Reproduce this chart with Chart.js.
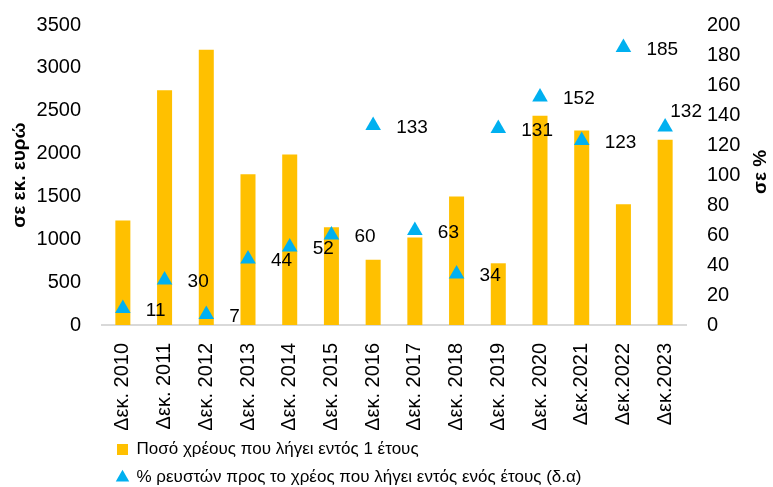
<!DOCTYPE html>
<html>
<head>
<meta charset="utf-8">
<script src="https://cdn.jsdelivr.net/npm/chart.js@4.4.0/dist/chart.umd.min.js"></script>
<style>
  html, body { margin: 0; padding: 0; background: #fff; }
  #wrap { width: 773px; height: 487px; }
</style>
</head>
<body>
<div id="wrap"><canvas id="debtChart"></canvas></div>
<script>
// Year-end categories
const years = ['Δεκ. 2010', 'Δεκ. 2011', 'Δεκ. 2012', 'Δεκ. 2013', 'Δεκ. 2014', 'Δεκ. 2015',
               'Δεκ. 2016', 'Δεκ. 2017', 'Δεκ. 2018', 'Δεκ. 2019', 'Δεκ. 2020',
               'Δεκ.2021', 'Δεκ.2022', 'Δεκ.2023'];

// Debt maturing within one year (million euro, left axis)
const debtDue = [1220, 2740, 3210, 1760, 1990, 1140, 760, 1020, 1500, 720, 2440, 2270, 1410, 2160];

// Liquid assets as % of debt maturing within one year (right axis)
const liquidRatio = [11, 30, 7, 44, 52, 60, 133, 63, 34, 131, 152, 123, 185, 132];

const debtLabel = 'Ποσό χρέους που λήγει εντός 1 έτους';
const ratioLabel = '% ρευστών προς το χρέος που λήγει εντός ενός έτους (δ.α)';
const leftTitle = 'σε εκ. ευρώ';
const rightTitle = 'σε %';

const FONT = "'Liberation Sans', Arial, sans-serif";

// numbers next to the triangles
const pointLabels = {
    id: 'pointLabels',
    afterDatasetsDraw(chart) {
        const meta = chart.getDatasetMeta(1);
        const ctx = chart.ctx;
        ctx.save();
        ctx.font = '19px ' + FONT;
        ctx.fillStyle = '#000';
        ctx.textBaseline = 'middle';
        meta.data.forEach((pt, i) => {
            const last = i === meta.data.length - 1;
            // the last one sits above, otherwise it would run into the right axis
            ctx.textAlign = last ? 'center' : 'left';
            const x = last ? pt.x + 21 : pt.x + 23;
            const y = last ? pt.y - 15 : pt.y + 2;
            ctx.fillText(String(liquidRatio[i]), x, y);
        });
        ctx.restore();
    }
};

// right axis title, turned the same way as the left one
const rightAxisTitle = {
    id: 'rightAxisTitle',
    afterDraw(chart) {
        const area = chart.chartArea;
        const ctx = chart.ctx;
        ctx.save();
        ctx.translate(761, (area.top + area.bottom) / 2 - 3);
        ctx.rotate(-Math.PI / 2);
        ctx.font = 'bold 19px ' + FONT;
        ctx.fillStyle = '#000';
        ctx.textAlign = 'center';
        ctx.textBaseline = 'middle';
        ctx.fillText(rightTitle, 0, 0);
        ctx.restore();
    }
};

// legend sits under the plot, not at the canvas edge
const legendShift = {
    id: 'legendShift',
    afterLayout(chart) {
        chart.legend.left += 106;
    }
};

const ctx = document.getElementById('debtChart').getContext('2d');
new Chart(ctx, {
    data: {
        labels: years,
        datasets: [{
            type: 'bar',
            label: debtLabel,
            data: debtDue,
            backgroundColor: '#FFC000',
            borderWidth: 0,
            barPercentage: 0.36,
            categoryPercentage: 1,
            pointStyle: 'rect',
            yAxisID: 'y',
            order: 2
        }, {
            type: 'line',
            label: ratioLabel,
            data: liquidRatio,
            showLine: false,
            pointStyle: 'triangle',
            pointRadius: 9,
            pointHoverRadius: 9,
            pointBackgroundColor: '#00B0F0',
            pointBorderWidth: 0,
            backgroundColor: '#00B0F0',
            borderColor: '#00B0F0',
            borderWidth: 0,
            yAxisID: 'y1',
            order: 1
        }]
    },
    options: {
        responsive: true,
        maintainAspectRatio: false,
        animation: false,
        layout: { padding: { top: 14, left: 0, right: 0, bottom: -9 } },
        plugins: {
            legend: {
                position: 'bottom',
                align: 'start',
                labels: {
                    usePointStyle: true,
                    boxHeight: 11,
                    boxWidth: 11,
                    padding: 11,
                    color: '#000',
                    font: { family: FONT, size: 17 },
                    sort: (a, b) => a.datasetIndex - b.datasetIndex
                }
            },
            tooltip: { enabled: false }
        },
        scales: {
            x: {
                grid: { display: false },
                border: { display: true, color: '#D9D9D9', width: 2 },
                ticks: {
                    minRotation: 90,
                    maxRotation: 90,
                    autoSkip: false,
                    padding: 10,
                    color: '#000',
                    font: { family: FONT, size: 20 }
                },
                afterFit(scale) { scale.height = 105; }
            },
            y: {
                position: 'left',
                min: 0,
                max: 3500,
                grid: { display: false },
                border: { display: false },
                ticks: {
                    stepSize: 500,
                    autoSkip: false,
                    padding: 13,
                    color: '#000',
                    font: { family: FONT, size: 20 },
                    callback: v => String(v)
                },
                title: {
                    display: true,
                    text: leftTitle,
                    color: '#000',
                    font: { family: FONT, size: 19, weight: 'bold' },
                    padding: { top: 8, bottom: 0 }
                },
                afterFit(scale) { scale.width = 102; }
            },
            y1: {
                position: 'right',
                min: 0,
                max: 200,
                grid: { display: false },
                border: { display: false },
                ticks: {
                    stepSize: 20,
                    autoSkip: false,
                    padding: 13,
                    color: '#000',
                    font: { family: FONT, size: 20 },
                    callback: v => String(v)
                },
                afterFit(scale) { scale.width = 87; }
            }
        }
    },
    plugins: [pointLabels, rightAxisTitle, legendShift]
});
</script>
</body>
</html>
